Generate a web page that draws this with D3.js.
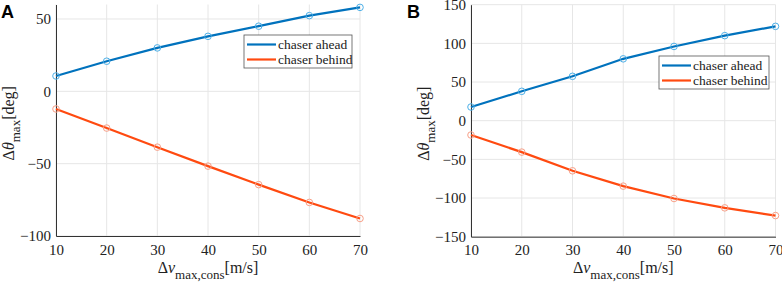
<!DOCTYPE html>
<html>
<head>
<meta charset="utf-8">
<script src="https://cdn.jsdelivr.net/npm/d3@7"></script>
<style>
  body { margin: 0; background: #fff; }
  svg text { font-family: "Liberation Serif", "Times New Roman", serif; }
</style>
</head>
<body>
<div id="chart"></div>
<script>
const speeds = [10, 20, 30, 40, 50, 60, 70];

// panel A
const aheadA = [10.6, 20.8, 30, 38, 45, 52.3, 58];
const behindA = [-12.2, -25.4, -38.6, -51.7, -64.5, -76.8, -87.9];
// panel B
const aheadB = [17.7, 38, 57.4, 80, 96, 110, 122];
const behindB = [-18.5, -40.6, -64.8, -84.6, -100.6, -112.7, -122.7];

const xTicks = [10, 20, 30, 40, 50, 60, 70];
const yTicksA = [-100, -50, 0, 50];
const yTicksB = [-150, -100, -50, 0, 50, 100, 150];
const seriesNames = ["chaser ahead", "chaser behind"];

const lineColors = ["#0072BD", "#FF4A10"];
const markColors = ["#4DB0E8", "#F8A088"];

const svg = d3.select("#chart")
  .append("svg")
  .attr("width", 782)
  .attr("height", 283);

function drawPanel(opts) {
  const g = svg.append("g");

  const x = d3.scaleLinear().domain([10, 70]).range([opts.left, opts.right]);
  const y = d3.scaleLinear().domain(opts.yDomain).range([opts.bottom, opts.top]);

  // grid
  g.append("g")
    .selectAll("line")
    .data(xTicks)
    .enter().append("line")
    .attr("x1", d => x(d)).attr("x2", d => x(d))
    .attr("y1", opts.top).attr("y2", opts.bottom)
    .attr("stroke", "#e6e6e6").attr("stroke-width", 1);
  g.append("g")
    .selectAll("line")
    .data(opts.yTicks)
    .enter().append("line")
    .attr("x1", opts.left).attr("x2", opts.right)
    .attr("y1", d => y(d)).attr("y2", d => y(d))
    .attr("stroke", "#e6e6e6").attr("stroke-width", 1);

  // axes
  const xAxis = g.append("g")
    .attr("transform", `translate(0,${opts.bottom})`)
    .call(d3.axisBottom(x).tickValues(xTicks).tickSize(0).tickPadding(8));
  xAxis.attr("font-family", null);
  xAxis.select(".domain").attr("stroke", "#333");
  xAxis.selectAll("text").attr("font-size", 15).attr("fill", "#222");

  const yAxis = g.append("g")
    .attr("transform", `translate(${opts.left},0)`)
    .call(d3.axisLeft(y).tickValues(opts.yTicks).tickSize(0).tickPadding(5));
  yAxis.attr("font-family", null);
  yAxis.select(".domain").attr("stroke", "#333");
  yAxis.selectAll("text").attr("font-size", 15).attr("fill", "#222");

  // lines + markers
  const line = d3.line().x((d, i) => x(speeds[i])).y(d => y(d));
  opts.series.forEach((vals, k) => {
    g.append("path")
      .datum(vals)
      .attr("d", line)
      .attr("fill", "none")
      .attr("stroke", lineColors[k])
      .attr("stroke-width", 2.2);
    g.selectAll(null)
      .data(vals)
      .enter().append("circle")
      .attr("cx", (d, i) => x(speeds[i]))
      .attr("cy", d => y(d))
      .attr("r", 3.3)
      .attr("fill", "none")
      .attr("stroke", markColors[k])
      .attr("stroke-width", 1);
  });

  // legend
  const lg = g.append("g").attr("transform", `translate(${opts.legend[0]},${opts.legend[1]})`);
  lg.append("rect")
    .attr("width", opts.legend[2]).attr("height", 33)
    .attr("fill", "#fff").attr("stroke", "#555").attr("stroke-width", 0.8);
  seriesNames.forEach((name, k) => {
    lg.append("line")
      .attr("x1", 3).attr("x2", 32)
      .attr("y1", 9.5 + k * 15).attr("y2", 9.5 + k * 15)
      .attr("stroke", lineColors[k]).attr("stroke-width", 2.2);
    lg.append("text")
      .attr("x", 34).attr("y", 9.5 + k * 15)
      .attr("dy", "0.33em")
      .attr("font-size", 13.5).attr("fill", "#222")
      .text(name);
  });

  // x label
  const xl = g.append("text")
    .attr("x", (opts.left + opts.right) / 2)
    .attr("y", 273)
    .attr("text-anchor", "middle")
    .attr("font-size", 16).attr("fill", "#222");
  xl.append("tspan").text("Δ");
  xl.append("tspan").attr("font-style", "italic").text("v");
  xl.append("tspan").attr("font-size", 13).attr("dy", 6).text("max,cons");
  xl.append("tspan").attr("dy", -6).text("[m/s]");

  // y label
  const yl = g.append("text")
    .attr("transform", `translate(${opts.left - 42},${(opts.top + opts.bottom) / 2 + 3}) rotate(-90)`)
    .attr("text-anchor", "middle")
    .attr("font-size", 16).attr("fill", "#222");
  yl.append("tspan").text("Δ");
  yl.append("tspan").attr("font-style", "italic").text("θ");
  yl.append("tspan").attr("font-size", 13).attr("dy", 6).text("max");
  yl.append("tspan").attr("dy", -6).text("[deg]");

  // panel letter
  svg.append("text")
    .attr("x", opts.letterX).attr("y", 18)
    .attr("font-size", 18).attr("font-weight", "bold")
    .style("font-family", "'Liberation Sans', Arial, sans-serif")
    .attr("fill", "#000")
    .text(opts.letter);
}

drawPanel({
  left: 56, right: 360, top: 4.5, bottom: 236,
  yDomain: [-100, 60], yTicks: yTicksA,
  series: [aheadA, behindA],
  legend: [244, 35, 108],
  letter: "A", letterX: 1
});

drawPanel({
  left: 471, right: 775.5, top: 4.7, bottom: 236.7,
  yDomain: [-150, 150], yTicks: yTicksB,
  series: [aheadB, behindB],
  legend: [659, 56, 110],
  letter: "B", letterX: 407
});
</script>
</body>
</html>
